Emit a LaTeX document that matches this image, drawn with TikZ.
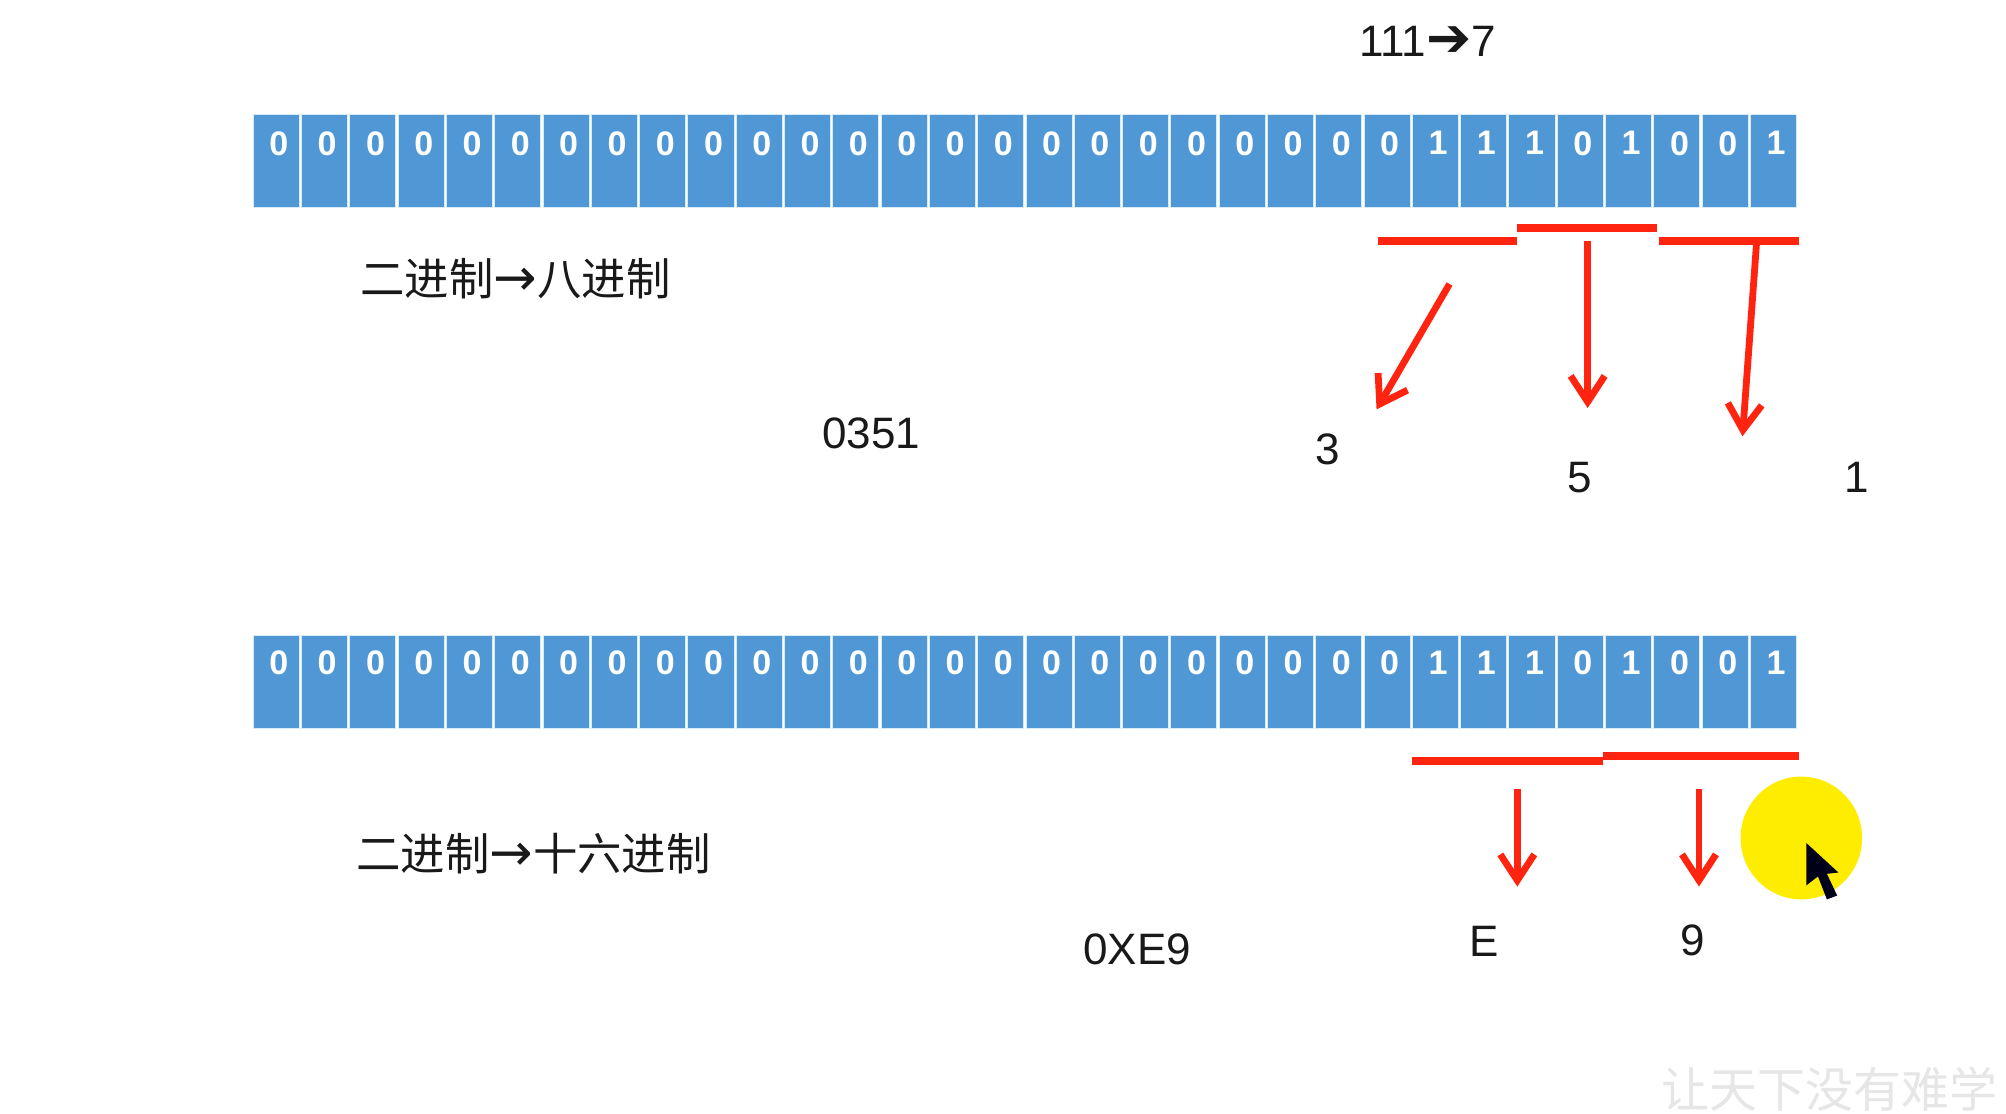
\documentclass[tikz,border=0pt]{standalone}
\usepackage{fontspec}
\setmainfont{Liberation Sans}
\newfontfamily\cjkfont{Noto Sans CJK SC}
\newfontfamily\symfont{DejaVu Sans}
\usetikzlibrary{arrows.meta}
\definecolor{cellblue}{HTML}{5097D6}
\definecolor{cellline}{HTML}{D5EBFA}
\definecolor{redline}{HTML}{FF2410}
\definecolor{wmark}{HTML}{E6E6E6}
\tikzset{
  bitcell/.style={fill=cellblue,draw=cellline,line width=0.5pt,minimum width=36*0.6396pt,minimum height=73*0.6396pt,inner sep=0pt},
  bitdigit/.style={text=white,font=\bfseries\fontsize{17}{17}\selectfont,inner sep=0pt},
  lbl/.style={text=black!90,font=\fontsize{22}{22}\selectfont,inner sep=0pt},
  cnlbl/.style={text=black!90,font=\cjkfont\fontsize{22.2}{22.2}\selectfont,inner sep=0pt},
  bar/.style={draw=redline,line width=4pt},
  redarrow/.style={draw=redline,line width=3.4pt,-{Straight Barb[length=13pt,width=17pt,line width=3.4pt]}},
}
\begin{document}
\begin{tikzpicture}[x=0.6396pt,y=-0.6396pt]
\useasboundingbox (0,0) rectangle (1568,870);
\fill[white] (0,0) rectangle (1568,870);
% bit rows
\foreach \r/\yy/\dy in {t/126/112,b/533/518}{
  \foreach \i in {0,...,31}{
    \pgfmathsetmacro{\xx}{216+37.75*\i}
    \pgfmathtruncatemacro{\bit}{(\i==24||\i==25||\i==26||\i==28||\i==31)?1:0}
    \node[bitcell] (\r\i) at (\xx,\yy) {};
    \node[bitdigit] (\r d\i) at (\xx+2,\dy) {\bit};
  }
}
% labels
\node[lbl] (seven) at (1116,32) {111{\symfont\bfseries\fontsize{27}{22}\selectfont ➔}7};
\node[cnlbl] (octtitle) at (403,218) {二进制{\symfont\fontsize{26}{22}\selectfont →}八进制};
\node[cnlbl] (hextitle) at (417,667) {二进制{\symfont\fontsize{26}{22}\selectfont →}十六进制};
\node[lbl] (oct) at (681,339) {0351};
\node[lbl] (o3) at (1038,351) {3};
\node[lbl] (o5) at (1235,373) {5};
\node[lbl] (o1) at (1451,373) {1};
\node[lbl] (hex) at (889,742) {0XE9};
\node[lbl] (hE) at (1160,736) {E};
\node[lbl] (h9) at (1323,735) {9};
% bracket bars
\coordinate (a1) at (1077,188); \coordinate (a2) at (1186,188);
\coordinate (b1) at (1186,178); \coordinate (b2) at (1295,178);
\coordinate (c1) at (1297,188); \coordinate (c2) at (1406,188);
\coordinate (d1) at (1104,595); \coordinate (d2) at (1253,595);
\coordinate (e1) at (1253,591); \coordinate (e2) at (1406,591);
\draw[bar] (a1) -- (a2);
\draw[bar] (b1) -- (b2);
\draw[bar] (c1) -- (c2);
\draw[bar] (d1) -- (d2);
\draw[bar] (e1) -- (e2);
% arrows
\coordinate (s3) at (1133,222); \coordinate (t3) at (1076,320);
\coordinate (s5) at (1241,188); \coordinate (t5) at (1241,319);
\coordinate (s1) at (1373,190); \coordinate (t1) at (1362,341);
\coordinate (sE) at (1186,617); \coordinate (tE) at (1186,693);
\coordinate (s9) at (1328,617); \coordinate (t9) at (1328,693);
\draw[redarrow] (s3) -- (t3);
\draw[redarrow] (s5) -- (t5);
\draw[redarrow] (s1) -- (t1);
\draw[redarrow] (sE) -- (tE);
\draw[redarrow] (s9) -- (t9);
% pointer highlight and cursor
\fill[yellow!95!orange] (1408,655) ellipse [x radius=47.5,y radius=48];
\fill[black!90!blue] (1412,659) -- (1412,692) -- (1421,685) -- (1428,703) -- (1436,700) -- (1428,683) -- (1437,682) -- cycle;
% watermark
\node[text=wmark,font=\cjkfont\fontsize{24}{24}\selectfont,inner sep=0pt,anchor=west] (wm) at (1298,851) {让天下没有难学};
\end{tikzpicture}
\end{document}
